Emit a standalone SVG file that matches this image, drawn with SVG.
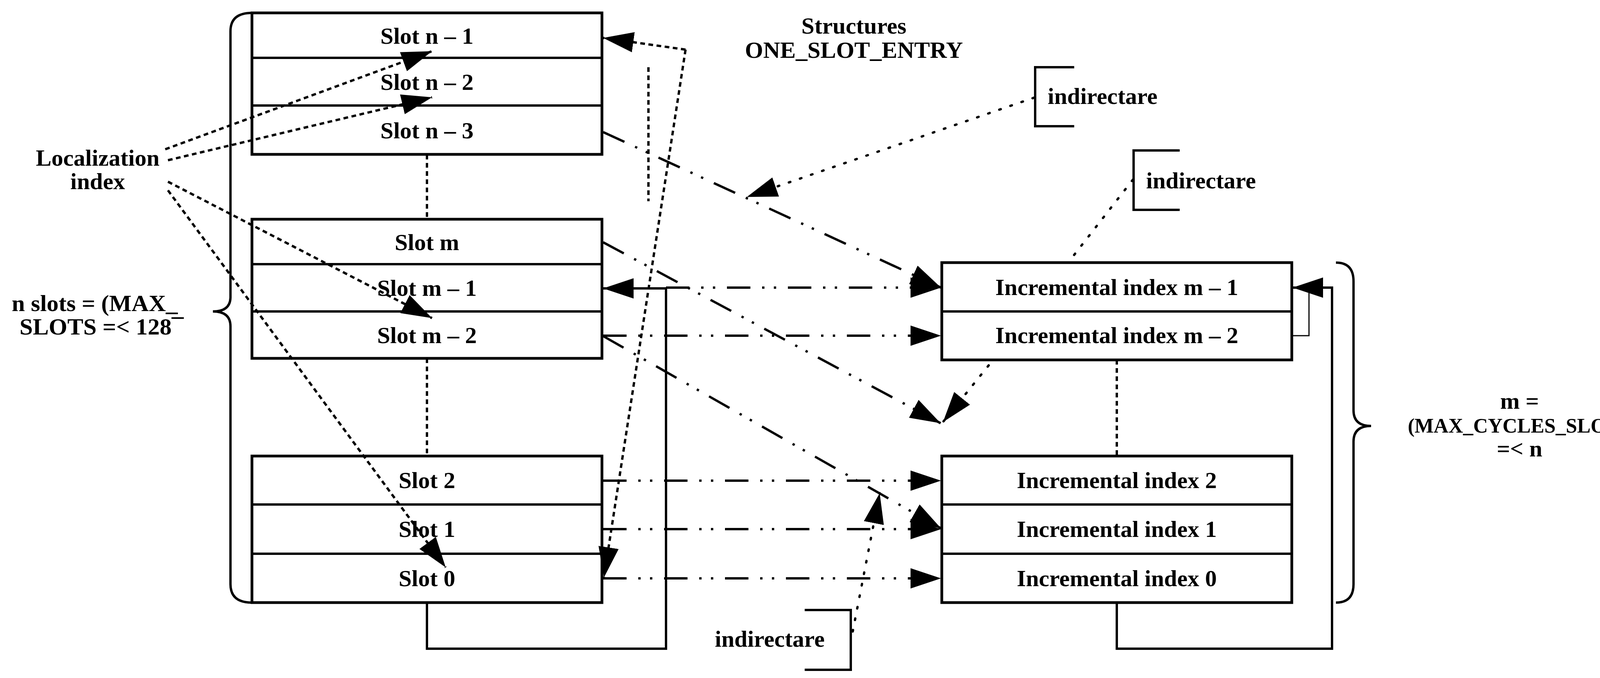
<svg xmlns="http://www.w3.org/2000/svg" width="4284" height="1735" viewBox="0 0 4284 1735">
<style>
text{font-family:"Liberation Serif","Times New Roman",serif;font-weight:bold;font-size:60px;fill:#000}
.c{text-anchor:middle}
.box{fill:#fff;stroke:#000;stroke-width:7}
.ln{fill:none;stroke:#000;stroke-width:6}
.sd{fill:none;stroke:#000;stroke-width:6;stroke-dasharray:12 9}
.dd{fill:none;stroke:#000;stroke-width:6;stroke-dasharray:60 30 6 24 6 30}
.dt{fill:none;stroke:#000;stroke-width:6;stroke-dasharray:4 26;stroke-linecap:round}
</style>
<defs>
<marker id="a" markerUnits="userSpaceOnUse" markerWidth="80" markerHeight="60" refX="78" refY="30" orient="auto"><path d="M0,4 L78,30 L0,56 Z" fill="#000"/></marker>
</defs>
<g id="slots-top">
<rect class="box" x="645" y="33" width="896" height="362"/>
<line class="ln" x1="645" y1="148" x2="1541" y2="148"/>
<line class="ln" x1="645" y1="270" x2="1541" y2="270"/>
<text class="c" x="1093" y="112">Slot n – 1</text>
<text class="c" x="1093" y="230">Slot n – 2</text>
<text class="c" x="1093" y="354">Slot n – 3</text>
</g>
<g id="slots-mid">
<rect class="box" x="645" y="561" width="896" height="356"/>
<line class="ln" x1="645" y1="676" x2="1541" y2="676"/>
<line class="ln" x1="645" y1="797" x2="1541" y2="797"/>
<text class="c" x="1093" y="640">Slot m</text>
<text class="c" x="1093" y="757">Slot m – 1</text>
<text class="c" x="1093" y="878">Slot m – 2</text>
</g>
<g id="slots-bot">
<rect class="box" x="645" y="1167" width="896" height="375"/>
<line class="ln" x1="645" y1="1291" x2="1541" y2="1291"/>
<line class="ln" x1="645" y1="1417" x2="1541" y2="1417"/>
<text class="c" x="1093" y="1249">Slot 2</text>
<text class="c" x="1093" y="1374">Slot 1</text>
<text class="c" x="1093" y="1500">Slot 0</text>
</g>
<g id="inc-top">
<rect class="box" x="2411" y="672" width="896" height="249"/>
<line class="ln" x1="2411" y1="797" x2="3307" y2="797"/>
<text class="c" x="2859" y="755">Incremental index m – 1</text>
<text class="c" x="2859" y="878">Incremental index m – 2</text>
</g>
<g id="inc-bot">
<rect class="box" x="2411" y="1167" width="896" height="375"/>
<line class="ln" x1="2411" y1="1291" x2="3307" y2="1291"/>
<line class="ln" x1="2411" y1="1417" x2="3307" y2="1417"/>
<text class="c" x="2859" y="1249">Incremental index  2</text>
<text class="c" x="2859" y="1374">Incremental index  1</text>
<text class="c" x="2859" y="1500">Incremental index  0</text>
</g>
<g id="labels">
<text class="c" x="2186" y="86">Structures</text>
<text class="c" x="2186" y="148">ONE_SLOT_ENTRY</text>
<text class="c" x="250" y="424">Localization</text>
<text class="c" x="250" y="484">index</text>
<text x="30" y="796" textLength="425" lengthAdjust="spacingAndGlyphs">n slots = (MAX_</text>
<text x="50" y="856" textLength="420" lengthAdjust="spacingAndGlyphs">SLOTS =&lt; 128¯</text>
<text class="c" x="3890" y="1046">m =</text>
<text class="c" x="3890" y="1107" style="font-size:52px">(MAX_CYCLES_SLOTS</text>
<text class="c" x="3890" y="1168">=&lt; n</text>
<path class="ln" d="M645,33 Q590,33 590,80 L590,760 Q590,797 545,797 Q590,797 590,835 L590,1495 Q590,1542 645,1542"/>
<path class="ln" d="M3420,672 Q3465,672 3465,720 L3465,1050 Q3465,1090 3510,1090 Q3465,1090 3465,1130 L3465,1495 Q3465,1542 3420,1542"/>
</g>
<g id="indirectare-1">
<path class="ln" d="M2750,172 L2650,172 L2650,323 L2750,323"/>
<text x="2682" y="266">indirectare</text>
</g>
<g id="indirectare-2">
<path class="ln" d="M3020,385 L2902,385 L2902,537 L3020,537"/>
<text x="2934" y="482">indirectare</text>
</g>
<g id="indirectare-3">
<path class="ln" d="M2060,1561 L2178,1561 L2178,1714 L2060,1714"/>
<text x="1830" y="1655">indirectare</text>
</g>
<g id="connectors">
<line class="sd" x1="423" y1="382" x2="1106" y2="131" marker-end="url(#a)"/>
<line class="sd" x1="430" y1="410" x2="1106" y2="249" marker-end="url(#a)"/>
<line class="sd" x1="430" y1="465" x2="1106" y2="814" marker-end="url(#a)"/>
<line class="sd" x1="430" y1="487" x2="1141" y2="1452" marker-end="url(#a)"/>
<line class="sd" x1="1093" y1="396" x2="1093" y2="560"/>
<line class="sd" x1="1093" y1="917" x2="1093" y2="1167"/>
<line class="sd" x1="2859" y1="921" x2="2859" y2="1167"/>
<line class="sd" x1="1755" y1="127" x2="1544" y2="97" marker-end="url(#a)"/>
<line class="sd" x1="1755" y1="127" x2="1546" y2="1478" marker-end="url(#a)"/>
<line class="sd" x1="1660" y1="172" x2="1660" y2="515"/>
<path class="ln" d="M1093,1542 L1093,1660 L1705,1660 L1705,738 L1544,738" marker-end="url(#a)"/>
<path class="ln" d="M2859,1542 L2859,1660 L3410,1660 L3410,736 L3309,736" marker-end="url(#a)"/>
<path class="ln" style="stroke-width:3" d="M3307,859 L3351,859 L3351,736"/>
<line class="dd" x1="1705" y1="736" x2="2409" y2="736" marker-end="url(#a)"/>
<line class="dd" x1="1544" y1="859" x2="2409" y2="859" marker-end="url(#a)"/>
<line class="dd" x1="1544" y1="1230" x2="2409" y2="1230" marker-end="url(#a)"/>
<line class="dd" x1="1544" y1="1354" x2="2409" y2="1354" marker-end="url(#a)"/>
<line class="dd" x1="1544" y1="1480" x2="2409" y2="1480" marker-end="url(#a)"/>
<line class="dd" x1="1544" y1="338" x2="2409" y2="736" marker-end="url(#a)"/>
<line class="dd" x1="1544" y1="620" x2="2408" y2="1083" marker-end="url(#a)"/>
<line class="dd" x1="1544" y1="860" x2="2409" y2="1352" marker-end="url(#a)"/>
<line class="dt" x1="2531" y1="935" x2="2414" y2="1080" marker-end="url(#a)"/>
<line class="dt" x1="2647" y1="250" x2="1912" y2="504" marker-end="url(#a)"/>
<line class="dt" x1="2900" y1="460" x2="2736" y2="670"/>
<line class="dt" x1="2183" y1="1616" x2="2252" y2="1262" marker-end="url(#a)"/>
</g>
</svg>
